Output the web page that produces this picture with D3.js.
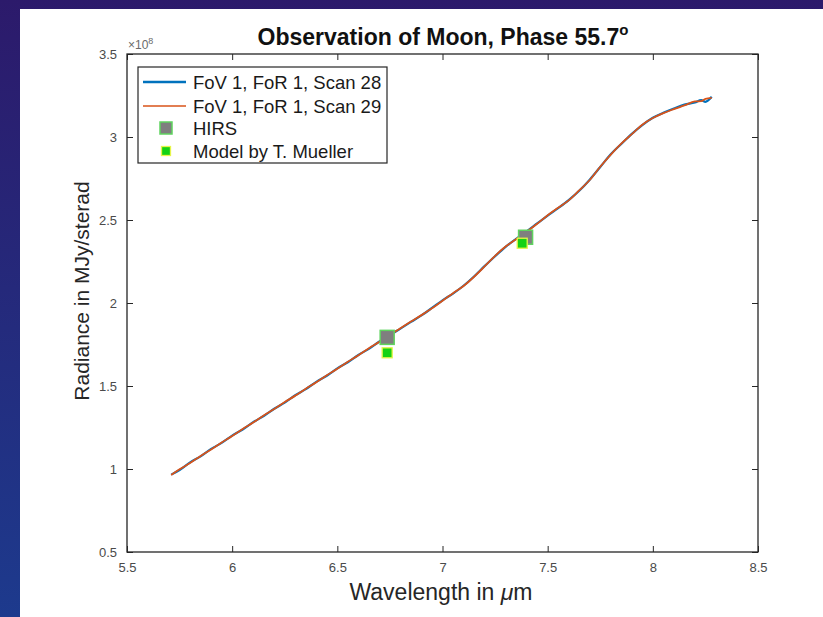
<!DOCTYPE html>
<html>
<head>
<meta charset="utf-8">
<script src="https://cdn.jsdelivr.net/npm/d3@7"></script>
<style>
  html, body { margin: 0; padding: 0; }
  body { width: 823px; height: 617px; overflow: hidden; }
  svg { display: block; }
</style>
</head>
<body>
<svg id="chart" width="823" height="617"></svg>
<script>
// Wavelength grid (µm) shared by both scans
const wavelength = [
  5.71, 5.75, 5.80, 5.85, 5.90, 5.95, 6.00, 6.05, 6.10, 6.15, 6.20, 6.25, 6.30,
  6.35, 6.40, 6.45, 6.50, 6.55, 6.60, 6.65, 6.70, 6.75, 6.80, 6.85, 6.90, 6.95,
  7.00, 7.05, 7.10, 7.15, 7.20, 7.25, 7.30, 7.35, 7.40, 7.45, 7.50, 7.55, 7.60,
  7.65, 7.70, 7.75, 7.80, 7.85, 7.90, 7.95, 8.00, 8.05, 8.10, 8.15, 8.20, 8.23,
  8.25, 8.28
];
// Radiance in units of 1e8 MJy/sterad
const scan28 = [
  0.966, 0.994, 1.040, 1.076, 1.121, 1.157, 1.201, 1.238, 1.282, 1.319, 1.363, 1.400, 1.444,
  1.481, 1.525, 1.562, 1.606, 1.643, 1.687, 1.724, 1.768, 1.806, 1.846, 1.886, 1.925, 1.970,
  2.016, 2.057, 2.104, 2.160, 2.222, 2.282, 2.338, 2.386, 2.431, 2.479, 2.527, 2.572, 2.620,
  2.676, 2.743, 2.819, 2.896, 2.958, 3.019, 3.072, 3.116, 3.146, 3.172, 3.195, 3.208, 3.222,
  3.212, 3.242
];
const scan29 = [
  0.964, 0.998, 1.036, 1.079, 1.118, 1.160, 1.199, 1.241, 1.280, 1.322, 1.361, 1.403, 1.442,
  1.484, 1.523, 1.565, 1.604, 1.646, 1.685, 1.727, 1.766, 1.808, 1.848, 1.888, 1.927, 1.968,
  2.014, 2.059, 2.102, 2.158, 2.220, 2.284, 2.340, 2.384, 2.429, 2.477, 2.529, 2.574, 2.618,
  2.678, 2.741, 2.821, 2.894, 2.960, 3.017, 3.074, 3.114, 3.144, 3.168, 3.190, 3.214, 3.216,
  3.230, 3.236
];
// HIRS measurements and model prediction
const hirsWavelength = [6.737, 7.395];
const hirsRadiance = [1.793, 2.396];
const modelWavelength = [6.737, 7.379];
const modelRadiance = [1.700, 2.360];

const xTicks = [5.5, 6, 6.5, 7, 7.5, 8, 8.5];
const yTicks = [0.5, 1, 1.5, 2, 2.5, 3, 3.5];
const seriesNames = ["FoV 1, FoR 1, Scan 28", "FoV 1, FoR 1, Scan 29", "HIRS", "Model by T. Mueller"];

const colors = { scan28: "#0072BD", scan29: "#D95319", axis: "#262626", tick: "#4a4a4a" };
const font = "'Liberation Sans', Arial, Helvetica, sans-serif";

const svg = d3.select("#chart");

// slide background
const defs = svg.append("defs");
const grad = defs.append("linearGradient").attr("id", "bg").attr("x1", 0).attr("y1", 0).attr("x2", 0).attr("y2", 1);
grad.append("stop").attr("offset", "0%").attr("stop-color", "#2c1a6b");
grad.append("stop").attr("offset", "100%").attr("stop-color", "#1d3a8d");
svg.append("rect").attr("width", 823).attr("height", 617).attr("fill", "url(#bg)");
svg.append("rect").attr("x", 20).attr("y", 9).attr("width", 803).attr("height", 608).attr("fill", "#ffffff");

const plot = { left: 127, right: 758, top: 54, bottom: 552 };
const x = d3.scaleLinear().domain([5.5, 8.5]).range([plot.left, plot.right]);
const y = d3.scaleLinear().domain([0.5, 3.5]).range([plot.bottom, plot.top]);

const g = svg.append("g");

// axes with inward ticks on all four sides
function styleAxis(sel) {
  sel.select(".domain").remove();
  sel.selectAll(".tick line").attr("stroke", colors.axis).attr("stroke-width", 1);
  sel.selectAll(".tick text").attr("fill", colors.tick).attr("font-family", font).attr("font-size", 13);
}
const fmt = d => String(d);
g.append("g").attr("transform", `translate(0,${plot.bottom})`)
  .call(d3.axisBottom(x).tickValues(xTicks).tickFormat(fmt).tickSizeInner(-6).tickSizeOuter(0).tickPadding(11))
  .call(styleAxis);
g.append("g").attr("transform", `translate(0,${plot.top})`)
  .call(d3.axisTop(x).tickValues(xTicks).tickFormat("").tickSizeInner(-6).tickSizeOuter(0))
  .call(styleAxis);
g.append("g").attr("transform", `translate(${plot.left},0)`)
  .call(d3.axisLeft(y).tickValues(yTicks).tickFormat(fmt).tickSizeInner(-6).tickSizeOuter(0).tickPadding(10))
  .call(styleAxis);
g.append("g").attr("transform", `translate(${plot.right},0)`)
  .call(d3.axisRight(y).tickValues(yTicks).tickFormat("").tickSizeInner(-6).tickSizeOuter(0))
  .call(styleAxis);

// spectra
const line = vals => d3.line().curve(d3.curveMonotoneX)
  .x((d, i) => x(wavelength[i])).y(d => y(d))(vals);
g.append("path").attr("d", line(scan28)).attr("fill", "none")
  .attr("stroke", colors.scan28).attr("stroke-width", 2.2).attr("stroke-linejoin", "round");
g.append("path").attr("d", line(scan29)).attr("fill", "none")
  .attr("stroke", colors.scan29).attr("stroke-width", 1.8).attr("stroke-linejoin", "round");

// HIRS squares and model squares
const hirsSize = 14, modelSize = 10;
g.selectAll(".hirs").data(hirsWavelength).join("rect")
  .attr("x", (d) => x(d) - hirsSize / 2).attr("y", (d, i) => y(hirsRadiance[i]) - hirsSize / 2)
  .attr("width", hirsSize).attr("height", hirsSize)
  .attr("fill", "#7f7f7f").attr("stroke", "#5fd35f").attr("stroke-width", 1.5);
g.selectAll(".model").data(modelWavelength).join("rect")
  .attr("x", (d) => x(d) - modelSize / 2).attr("y", (d, i) => y(modelRadiance[i]) - modelSize / 2)
  .attr("width", modelSize).attr("height", modelSize)
  .attr("fill", "#14d214").attr("stroke", "#e6f54a").attr("stroke-width", 1.3);

// plot box
g.append("rect").attr("x", plot.left).attr("y", plot.top)
  .attr("width", plot.right - plot.left).attr("height", plot.bottom - plot.top)
  .attr("fill", "none").attr("stroke", colors.axis).attr("stroke-width", 1.3);

// exponent label
const expo = g.append("text").attr("x", plot.left + 1).attr("y", plot.top - 5)
  .attr("font-family", font).attr("font-size", 12).attr("fill", "#6a6a6a");
expo.append("tspan").text("\u00d710");
expo.append("tspan").attr("dy", -5).attr("font-size", 9).text("8");

// title
const title = svg.append("text").attr("x", 443).attr("y", 45).attr("text-anchor", "middle")
  .attr("font-family", font).attr("font-weight", "bold").attr("font-size", 23).attr("fill", "#111");
title.append("tspan").text("Observation of Moon, Phase 55.7");
title.append("tspan").attr("dy", -10).attr("font-size", 15).text("o");

// axis labels
const xl = svg.append("text").attr("x", 441).attr("y", 600).attr("text-anchor", "middle")
  .attr("font-family", font).attr("font-size", 23).attr("fill", "#262626");
xl.append("tspan").text("Wavelength in ");
xl.append("tspan").attr("font-style", "italic").text("\u03bc");
xl.append("tspan").text("m");
svg.append("text").attr("transform", `translate(89,291) rotate(-90)`).attr("text-anchor", "middle")
  .attr("font-family", font).attr("font-size", 21).attr("fill", "#262626")
  .text("Radiance in MJy/sterad");

// legend
const leg = svg.append("g");
leg.append("rect").attr("x", 138).attr("y", 67).attr("width", 249).attr("height", 96)
  .attr("fill", "#fff").attr("stroke", colors.axis).attr("stroke-width", 1.2);
const rowY = [82, 106, 128, 151];
leg.append("line").attr("x1", 143).attr("x2", 186).attr("y1", rowY[0]).attr("y2", rowY[0])
  .attr("stroke", colors.scan28).attr("stroke-width", 2.6);
leg.append("line").attr("x1", 143).attr("x2", 186).attr("y1", rowY[1]).attr("y2", rowY[1])
  .attr("stroke", colors.scan29).attr("stroke-width", 1.6);
leg.append("rect").attr("x", 166 - 6).attr("y", rowY[2] - 6).attr("width", 12).attr("height", 12)
  .attr("fill", "#7f7f7f").attr("stroke", "#5fd35f").attr("stroke-width", 1.5);
leg.append("rect").attr("x", 166 - 4.5).attr("y", rowY[3] - 4.5).attr("width", 9).attr("height", 9)
  .attr("fill", "#14d214").attr("stroke", "#e6f54a").attr("stroke-width", 1.3);
leg.selectAll(".lt").data(seriesNames).join("text")
  .attr("x", 193).attr("y", (d, i) => rowY[i] + 6.5)
  .attr("font-family", font).attr("font-size", 18.5).attr("fill", "#1a1a1a")
  .text(d => d);
</script>
</body>
</html>
